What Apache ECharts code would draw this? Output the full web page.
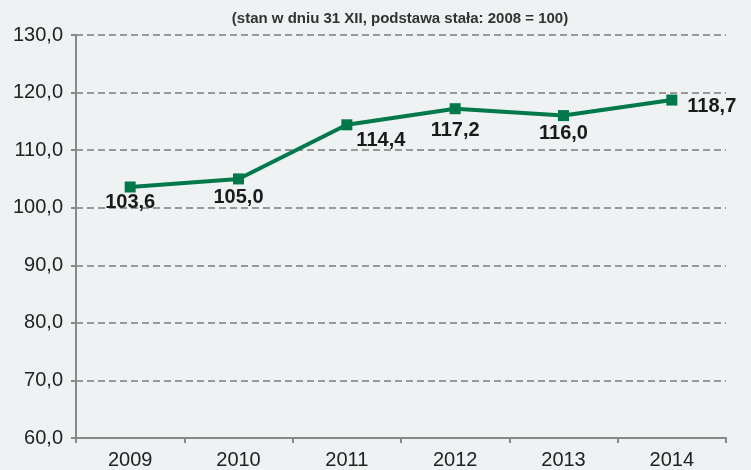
<!DOCTYPE html>
<html>
<head>
<meta charset="utf-8">
<script src="https://cdn.jsdelivr.net/npm/echarts@6/dist/echarts.min.js"></script>
<style>
  html, body { margin: 0; padding: 0; background: #eef2f3; }
  #chart { width: 751px; height: 470px; }
</style>
</head>
<body>
<div id="chart"></div>
<script>
const years = ['2009', '2010', '2011', '2012', '2013', '2014']
const values = [103.6, 105.0, 114.4, 117.2, 116.0, 118.7]
const yMin = 60
const yMax = 130
const yStep = 10

const fmt = (v) => v.toFixed(1).replace('.', ',')

// label placement per point, roughly where the original puts them
const labelPos = [
  { position: 'bottom', distance: 0 },
  { position: 'bottom', distance: 3 },
  { position: 'bottom', distance: 0, offset: [34, 0] },
  { position: 'bottom', distance: 6 },
  { position: 'bottom', distance: 2 },
  { position: 'right', distance: 10, offset: [0, 6] },
]

const chart = echarts.init(document.getElementById('chart'))
chart.setOption({
  backgroundColor: '#eef2f3',
  title: {
    text: '(stan w dniu 31 XII, podstawa stała: 2008 = 100)',
    left: 395,
    textAlign: 'center',
    top: 6,
    textStyle: { fontFamily: 'Liberation Sans', fontSize: 15, fontWeight: 'bold', color: '#333' },
  },
  grid: { left: 76, right: 25, top: 35, bottom: 30 },
  xAxis: {
    type: 'category',
    data: years,
    boundaryGap: true,
    axisLine: { lineStyle: { color: '#888', width: 2 } },
    axisTick: { show: true, length: 5, lineStyle: { color: '#888', width: 2 } },
    axisLabel: { fontFamily: 'Liberation Sans', fontSize: 20, color: '#222', margin: 12 },
    splitLine: { show: false },
  },
  yAxis: {
    type: 'value',
    min: yMin,
    max: yMax,
    interval: yStep,
    axisLine: { show: true, lineStyle: { color: '#888', width: 2 } },
    axisTick: { show: true, length: 5, lineStyle: { color: '#888', width: 2 } },
    axisLabel: { fontFamily: 'Liberation Sans', fontSize: 20, color: '#222', margin: 13, formatter: fmt },
    splitLine: { show: true, lineStyle: { color: '#999', width: 2, type: [7, 4] } },
  },
  series: [
    {
      type: 'line',
      data: values.map((v, i) => ({ value: v, label: labelPos[i] })),
      symbol: 'rect',
      symbolSize: 11,
      lineStyle: { color: '#00784a', width: 4 },
      itemStyle: { color: '#00784a' },
      label: {
        show: true,
        fontFamily: 'Liberation Sans',
        fontSize: 20,
        fontWeight: 'bold',
        color: '#1a1a1a',
        formatter: (p) => fmt(p.value),
      },
      z: 5,
    },
  ],
})
</script>
</body>
</html>
